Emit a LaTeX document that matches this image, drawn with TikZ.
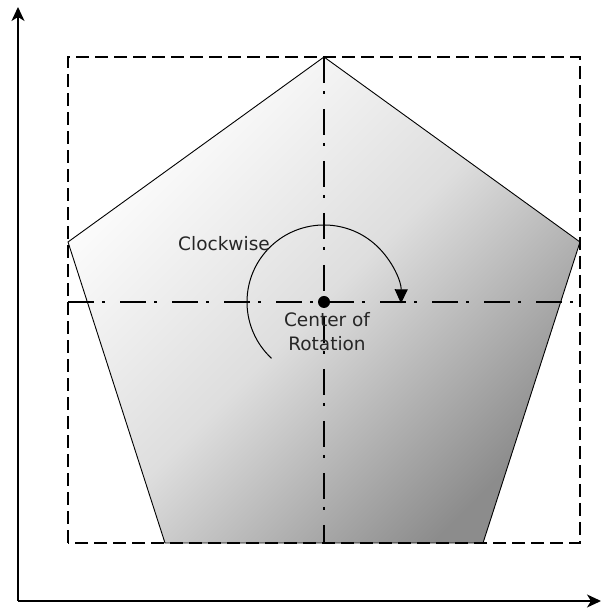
\documentclass[tikz,border=0pt]{standalone}
\usepackage{fontspec}
\setmainfont{DejaVu Sans}
\usetikzlibrary{arrows.meta}
\begin{document}
\begin{tikzpicture}[x = 1pt, y = 1pt,
        axis/.style = {line width = 1.6pt, -{Stealth[length = 14pt, width = 13pt, inset = 4pt]}},
        boxline/.style = {line width = 1.2pt, dash pattern = on 13pt off 6pt},
        centreline/.style = {line width = 1.2pt, dash pattern = on 26pt off 8pt on 3pt off 15pt},
        caption/.style = {font = \fontsize{18.5}{24}\selectfont, text = black!85, inner sep = 0pt, align = center}]
        \useasboundingbox (0, 0) rectangle (602, 610);
        \pgfmathsetmacro{\r}{77};
        \coordinate (o) at (18, 9);
        \coordinate (c) at (324, 308);
        \coordinate (top) at (324, 553);
        \coordinate (left) at (68, 368);
        \coordinate (right) at (580, 368);
        \coordinate (bl) at (165, 67);
        \coordinate (br) at (483, 67);
        \shadedraw [shading = axis, top color = white, bottom color = black!45, middle color = black!13, shading angle = 45, line width = 0.9pt] (top) -- (right) -- (br) -- (bl) -- (left) -- cycle;
        \draw [boxline] (68, 67) rectangle (580, 553);
        \draw [centreline] (top) -- (324, 67);
        \draw [centreline] (68, 308) -- (580, 308);
        \draw [axis] (o) -- (18, 603);
        \draw [axis] (o) -- (601, 9);
        \draw [line width = 1pt, -{Triangle[length = 14pt, width = 13pt]}] (c) ++(227:\r pt) arc (227:-1:\r pt);
        \fill (c) circle (6pt);
        \node [caption, anchor = base] (cw) at (224, 359) {Clockwise};
        \node [caption, anchor = north] (cor) at (327, 297.5) {Center of\\Rotation};
    \end{tikzpicture}
\end{document}
